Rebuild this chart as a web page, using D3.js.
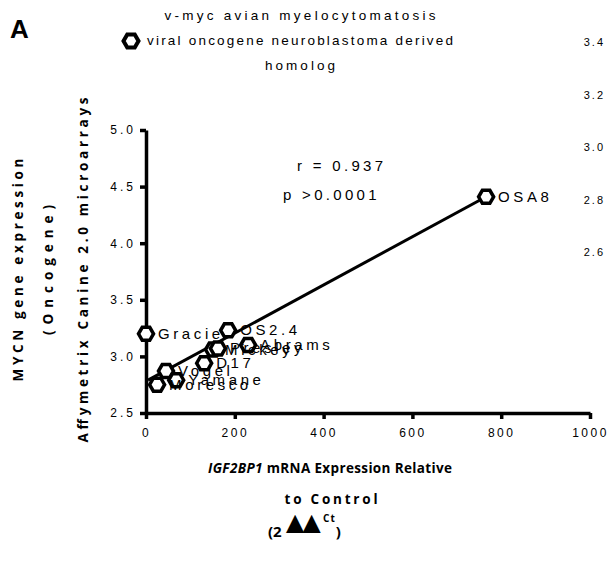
<!DOCTYPE html>
<html><head><meta charset="utf-8">
<script src="https://cdn.jsdelivr.net/npm/d3@7"></script>
<style>
html,body{margin:0;padding:0;background:#fff;}
svg{display:block;}
text{font-family:"Liberation Sans",Arial,sans-serif;fill:#000;}
.bold{font-family:"Open Sans",sans-serif;font-weight:700;}
</style></head>
<body>
<script>
// ---- data ----
const names   = ["Gracie","OS2.4","Abrams","Mickey","Presley","D17","Vogel","Yamane","Moresco","OSA8"];
const xValues = [0, 185, 230, 151, 162, 131, 45, 68, 25, 766];
const yValues = [3.20, 3.23, 3.10, 3.06, 3.07, 2.94, 2.87, 2.79, 2.75, 4.41];
const fitX = [4.5, 766];
const fitY = [2.79, 4.41];
const xTicks = [0, 200, 400, 600, 800, 1000];
const yTicks = [2.5, 3.0, 3.5, 4.0, 4.5, 5.0];
const rightTicks = [3.4, 3.2, 3.0, 2.8, 2.6];
const titleLines = ["v-myc avian myelocytomatosis", "viral oncogene neuroblastoma derived", "homolog"];
const statLines = ["r = 0.937", "p >0.0001"];
const yLabelLines = ["MYCN gene expression", "(Oncogene)", "Affymetrix Canine 2.0 microarrays"];

const W = 608, H = 569;
const svg = d3.select("body").append("svg").attr("width", W).attr("height", H);

const x = d3.scaleLinear().domain([0, 1000]).range([146, 590]);
const y = d3.scaleLinear().domain([2.5, 5.0]).range([413, 130]);

// hexagon symbol (flat top/bottom)
const hexType = {
  draw(ctx, size) {
    const r = Math.sqrt(size / (1.5 * Math.sqrt(3)));
    for (let i = 0; i < 6; i++) {
      const a = Math.PI / 3 * i;
      const px = r * Math.cos(a), py = r * Math.sin(a);
      if (i === 0) ctx.moveTo(px, py); else ctx.lineTo(px, py);
    }
    ctx.closePath();
  }
};
const hexSize = 1.5 * Math.sqrt(3) * 7.5 * 7.5;
const hexPath = d3.symbol().type(hexType).size(hexSize);

// axes
const xAxis = d3.axisBottom(x).tickValues(xTicks).tickFormat(d3.format("d")).tickSize(6).tickSizeOuter(0);
const yAxis = d3.axisLeft(y).tickValues(yTicks).tickFormat(d3.format(".1f")).tickSize(6).tickSizeOuter(0);

const gx = svg.append("g").attr("transform", "translate(0,413)").call(xAxis);
const gy = svg.append("g").attr("transform", "translate(146,0)").call(yAxis);
[gx, gy].forEach(g => {
  g.select(".domain").attr("stroke", "#000").attr("stroke-width", 3.5);
  g.selectAll(".tick line").attr("stroke", "#000").attr("stroke-width", 3.5);
  g.selectAll(".tick text").attr("font-family", "Liberation Sans, Arial, sans-serif")
    .attr("font-size", 12).attr("fill", "#000");
});
gx.selectAll(".tick text").attr("y", 15).attr("dy", "0.71em").attr("letter-spacing", "2.5px");
gy.selectAll(".tick text").attr("x", -10).attr("letter-spacing", "3px");

// regression line
svg.append("path")
  .attr("d", d3.line()([[x(fitX[0]), y(fitY[0])], [x(fitX[1]), y(fitY[1])]]))
  .attr("stroke", "#000").attr("stroke-width", 3).attr("fill", "none");

// points
const pts = names.map((n, i) => ({name: n, x: xValues[i], y: yValues[i]}));
svg.append("g").selectAll("path").data(pts).join("path")
  .attr("d", hexPath)
  .attr("transform", d => `translate(${x(d.x)},${y(d.y)})`)
  .attr("fill", "#fff").attr("stroke", "#000").attr("stroke-width", 3.5);

svg.append("g").selectAll("text").data(pts).join("text")
  .attr("x", d => x(d.x) + 12).attr("y", d => y(d.y) + 5)
  .attr("font-size", 15).attr("letter-spacing", "3.6px")
  .text(d => d.name);

// stat text
svg.selectAll("text.stat").data(statLines).join("text").attr("class", "stat")
  .attr("x", (d, i) => i === 0 ? 297 : 283).attr("y", (d, i) => 171 + i * 29)
  .attr("font-size", 15).attr("letter-spacing", "3.3px").text(d => d);

// legend / title
svg.append("path").attr("d", hexPath).attr("transform", "translate(131,41)")
  .attr("fill", "#fff").attr("stroke", "#000").attr("stroke-width", 4);
const titleLen = [271, 306, 70];
svg.selectAll("text.title").data(titleLines).join("text").attr("class", "title")
  .attr("x", 300).attr("y", (d, i) => 20 + i * 25).attr("text-anchor", "middle")
  .attr("font-size", 13.5)
  .attr("textLength", (d, i) => titleLen[i]).attr("lengthAdjust", "spacing")
  .text(d => d);

// panel letter
svg.append("text").attr("x", 10).attr("y", 38)
  .attr("font-family", "Liberation Sans Narrow, Liberation Sans, Arial, sans-serif")
  .attr("font-weight", 700).attr("font-size", 26).text("A");

// right-side stray tick labels
const yr = d3.scaleLinear().domain([2.6, 3.4]).range([252, 42]);
svg.selectAll("text.rt").data(rightTicks).join("text").attr("class", "rt")
  .attr("x", 605).attr("y", d => yr(d) + 4).attr("text-anchor", "end")
  .attr("font-size", 11).attr("letter-spacing", "2px").text(d => d3.format(".1f")(d));

// y-axis labels
const yLabX = [23, 53, 88];
const yLabLen = [223, 130, 345];
yLabelLines.forEach((t, i) => {
  svg.append("text").attr("class", "bold")
    .attr("transform", `translate(${yLabX[i]},270) rotate(-90)`)
    .attr("text-anchor", "middle").attr("font-size", 13.5)
    .attr("textLength", yLabLen[i]).attr("lengthAdjust", "spacing")
    .text(t);
});

// x-axis label
const xl1 = svg.append("text").attr("class", "bold").attr("x", 330).attr("y", 473)
  .attr("text-anchor", "middle").attr("font-size", 13.5)
  .attr("textLength", 244).attr("lengthAdjust", "spacing");
xl1.append("tspan").attr("font-style", "italic").text("IGF2BP1");
xl1.append("tspan").text(" mRNA Expression Relative");
svg.append("text").attr("class", "bold").attr("x", 331).attr("y", 504)
  .attr("text-anchor", "middle").attr("font-size", 13.5)
  .attr("textLength", 93).attr("lengthAdjust", "spacing").text("to Control");
const xl3 = svg.append("text").attr("class", "bold").attr("x", 268).attr("y", 537)
  .attr("font-size", 15);
xl3.append("tspan").text("(2");
xl3.append("tspan").attr("font-size", 31).attr("dy", -4).attr("dx", -2).attr("letter-spacing", "-14px").text("▲▲");
xl3.append("tspan").attr("font-size", 10).attr("dy", -11).attr("dx", 10).attr("letter-spacing", "1px").text("Ct");
xl3.append("tspan").attr("dy", 15).text(")");
</script>
</body></html>
